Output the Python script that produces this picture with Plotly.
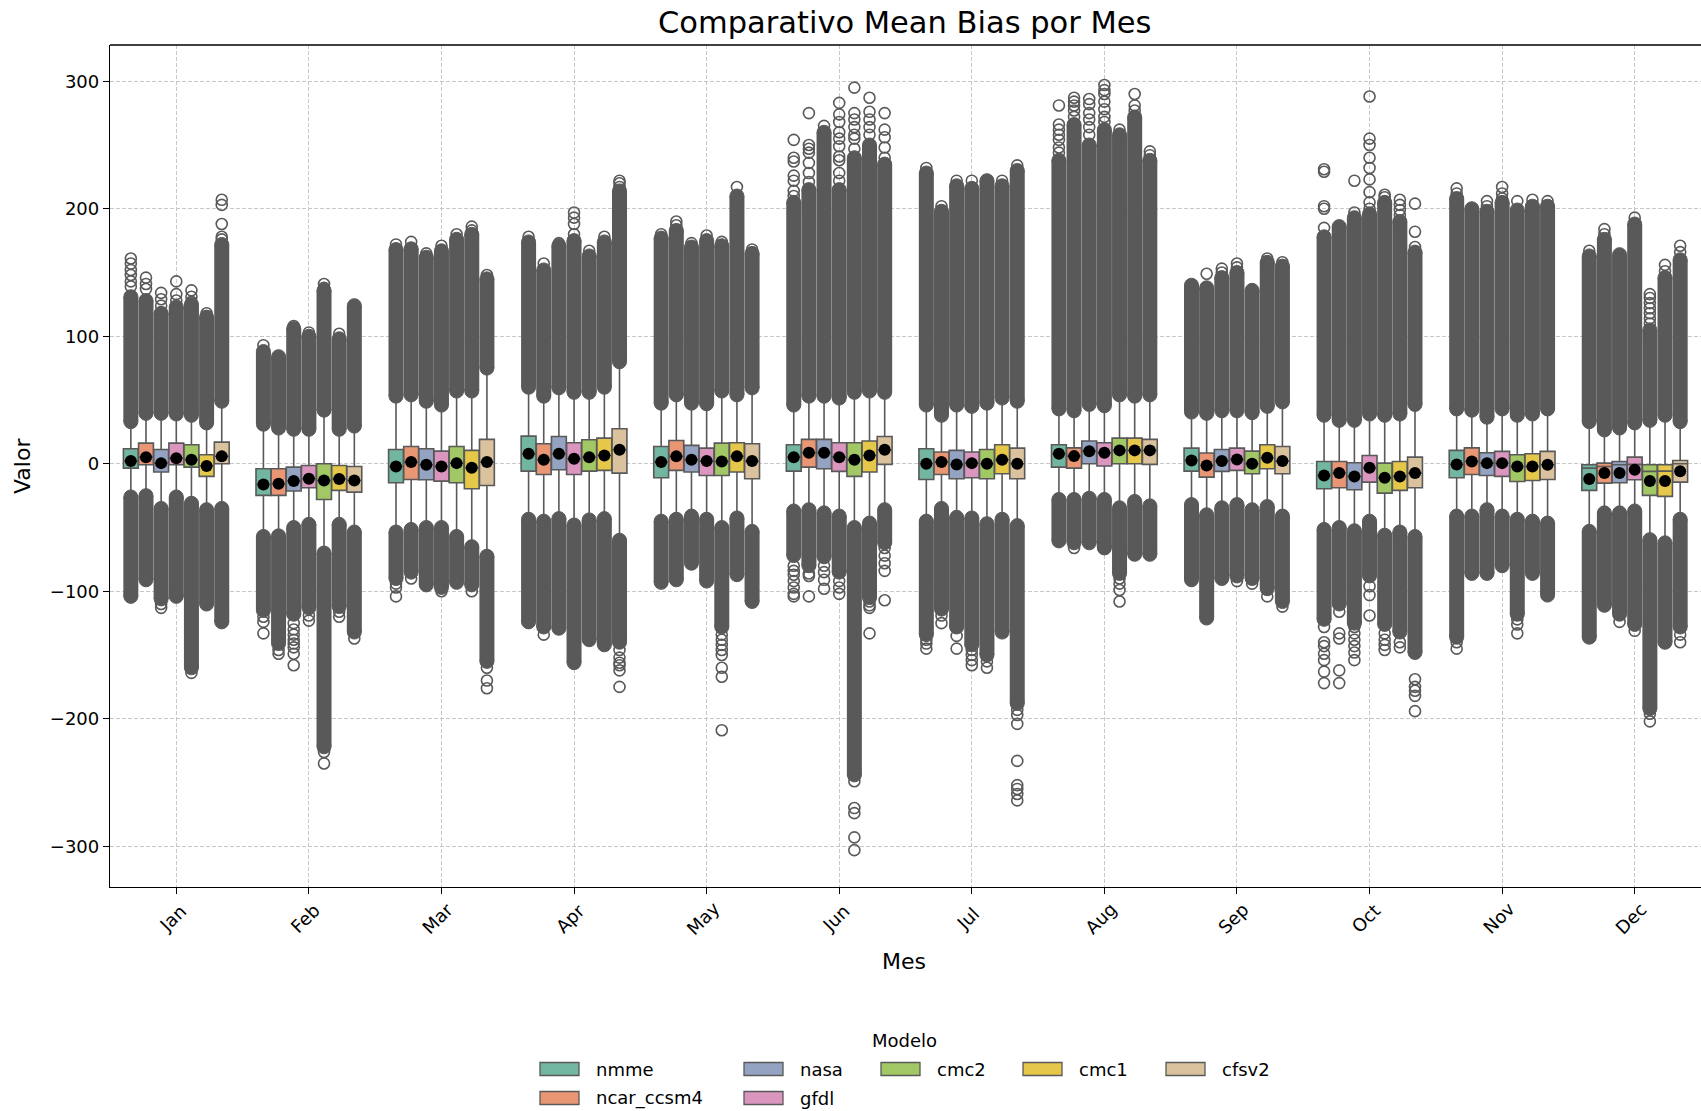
import colorsys
import plotly.graph_objects as go

# ---------------------------------------------------------------------------
# Data: monthly mean-bias distributions per model (box statistics + fliers)
# Rows = months (Jan..Dec), columns = models (same order as MODELS)
# ---------------------------------------------------------------------------
MONTHS = ["Jan", "Feb", "Mar", "Apr", "May", "Jun",
          "Jul", "Aug", "Sep", "Oct", "Nov", "Dec"]
MODELS = ["nmme", "ncar_ccsm4", "nasa", "gfdl", "cmc2", "cmc1", "cfsv2"]

Q3 = [
    [11.8, 16.2, 11.2, 16.2, 14.9, 7.1, 17.0],
    [-3.9, -3.9, -2.6, -1.3, 0.0, -1.3, -2.1],
    [11.2, 13.6, 11.8, 9.9, 13.6, 10.5, 19.1],
    [21.7, 15.7, 21.4, 16.5, 18.8, 20.1, 27.5],
    [13.6, 18.3, 14.4, 12.3, 16.2, 16.5, 15.7],
    [14.9, 19.1, 19.1, 16.5, 16.5, 17.8, 21.4],
    [11.8, 9.2, 10.5, 9.2, 11.2, 14.9, 12.3],
    [14.9, 12.5, 17.8, 16.5, 20.1, 20.1, 19.1],
    [12.3, 8.4, 11.2, 12.3, 9.9, 14.9, 13.6],
    [1.8, 1.8, 0.8, 6.5, 0.5, 1.8, 5.2],
    [10.5, 12.5, 8.6, 9.7, 7.1, 7.8, 9.7],
    [-0.8, 0.5, 1.8, 5.2, -0.8, -0.8, 2.6],
]
Q1 = [
    [-3.4, -0.8, -6.5, -0.8, -2.6, -9.9, 0.0],
    [-24.8, -24.8, -21.4, -18.8, -28.0, -20.9, -22.2],
    [-14.9, -12.3, -12.5, -13.6, -14.9, -19.6, -17.0],
    [-5.8, -8.4, -4.7, -8.4, -5.8, -5.2, -7.3],
    [-11.0, -5.2, -6.5, -9.2, -9.2, -6.5, -11.8],
    [-5.8, -2.6, -3.9, -6.0, -9.9, -6.5, -0.5],
    [-12.3, -8.4, -11.8, -11.0, -11.8, -7.8, -11.8],
    [-2.6, -3.4, 0.0, -1.8, 0.0, 0.0, -0.5],
    [-5.8, -10.5, -6.0, -5.2, -7.8, -3.9, -7.8],
    [-19.6, -18.8, -20.4, -14.4, -23.0, -20.9, -18.8],
    [-11.0, -8.4, -9.2, -9.9, -13.9, -13.1, -12.3],
    [-20.9, -15.2, -14.9, -12.5, -24.8, -25.6, -14.4],
]
MEDIAN = [
    [2.1, 5.2, 0.5, 4.4, 3.1, -1.8, 5.8],
    [-16.2, -15.7, -13.6, -11.8, -13.1, -12.0, -13.1],
    [-2.1, 1.3, -0.8, -2.1, 0.5, -3.1, 1.3],
    [7.8, 3.1, 7.8, 3.9, 5.2, 6.5, 11.0],
    [1.3, 5.8, 3.1, 2.1, 1.8, 5.8, 2.1],
    [5.2, 8.6, 8.6, 5.2, 3.1, 6.5, 11.0],
    [0.0, 1.3, -0.5, 0.5, 0.0, 3.1, 0.0],
    [7.8, 6.0, 9.9, 8.6, 10.5, 10.5, 10.5],
    [2.6, -1.3, 2.1, 3.4, 0.0, 4.7, 2.1],
    [-9.2, -7.3, -9.9, -3.1, -11.0, -9.9, -7.3],
    [-0.5, 1.8, 0.5, 0.5, -2.1, -2.1, -0.8],
    [-3.4, -2.1, -0.8, -0.5, -6.0, -5.8, 0.0],
]
MEAN = [
    [2.1, 5.2, 0.5, 4.4, 3.1, -1.8, 5.8],
    [-16.2, -15.7, -13.6, -11.8, -13.1, -12.0, -13.1],
    [-2.1, 1.3, -0.8, -2.1, 0.5, -3.1, 1.3],
    [7.8, 3.1, 7.8, 3.9, 5.2, 6.5, 11.0],
    [1.3, 5.8, 3.1, 2.1, 1.8, 5.8, 2.1],
    [5.2, 8.6, 8.6, 5.2, 3.1, 6.5, 11.0],
    [0.0, 1.3, -0.5, 0.5, 0.0, 3.1, 0.0],
    [7.8, 6.0, 9.9, 8.6, 10.5, 10.5, 10.5],
    [2.6, -1.3, 2.1, 3.4, 0.0, 4.7, 2.1],
    [-9.2, -7.3, -9.9, -3.1, -11.0, -9.9, -7.3],
    [-0.5, 1.8, 0.5, 0.5, -2.1, -2.1, -0.8],
    [-12.0, -7.3, -7.3, -4.7, -13.6, -13.6, -5.8],
]
WHISK_HI = [
    [33, 39.5, 39.5, 39, 38, 32, 49],
    [31, 28, 27, 27, 42, 27, 29.5],
    [53, 54, 49, 46, 57, 57, 75],
    [60, 53, 59.5, 56, 56, 60, 80],
    [47.5, 54, 47.5, 47, 57, 54, 59.5],
    [46, 53, 53, 51.5, 56, 57, 56],
    [46, 38, 46, 45, 47.5, 51.5, 49],
    [43, 41.5, 46.5, 45.5, 54, 53, 54],
    [40.5, 39.5, 41.5, 41.5, 40, 45, 48.5],
    [38, 34, 34, 39, 38, 39, 46.5],
    [43, 42, 36.5, 43, 38, 39, 43],
    [33, 26.5, 28, 32, 34, 38, 33],
]
WHISK_LO = [
    [-26, -25, -35, -26, -31, -36, -35],
    [-57, -56.5, -50, -47.5, -70, -47.5, -53.5],
    [-53.5, -51.5, -50, -50, -57, -65, -72.5],
    [-43.5, -45, -43, -48, -44, -43, -60],
    [-45, -43.5, -41, -43.5, -50, -42.5, -53],
    [-37, -36, -38.5, -41, -50, -46.5, -36],
    [-45, -35, -42, -42.5, -47, -43.5, -48.5],
    [-28, -28, -27, -28, -34.5, -29.5, -33],
    [-32, -40, -34.5, -32, -36, -33.5, -41],
    [-51.5, -50, -52.5, -45, -56, -53.5, -57],
    [-41, -41, -36, -41, -43.5, -45, -46.5],
    [-53, -38.5, -38.5, -37, -59.5, -62, -43.5],
]
# Extent of the continuous run of fliers beyond each whisker
FLIER_RUN_HI = [
    [131, 128, 118, 123, 125, 115, 172],
    [88, 84, 106, 100, 136, 98, 124],
    [168, 168.6, 162, 167, 176, 180, 145],
    [174, 152, 171, 175, 163, 174, 214],
    [177, 183, 170, 175, 171, 210, 165],
    [205, 215, 260, 215, 240, 250, 235],
    [228, 198, 218, 216, 222, 218, 230],
    [238, 266, 250, 262, 258, 272, 238],
    [140, 138, 146, 150, 136, 158, 155],
    [178, 186, 193, 196, 205, 190, 166],
    [208, 200, 198, 205, 199, 202, 202],
    [163, 176, 164, 188, 105, 146, 160],
]
FLIER_RUN_LO = [
    [-104, -91, -106, -104, -160, -110, -124],
    [-115, -141, -118, -113, -222, -112, -132],
    [-90, -85, -95, -97, -93, -95, -155],
    [-124, -128, -129, -156, -138, -142, -140],
    [-93, -91, -78, -92, -128, -87, -108],
    [-72, -80, -73, -85, -244, -105, -62],
    [-134, -114, -128, -142, -150, -132, -188],
    [-60.5, -62, -62, -66, -86, -71, -71],
    [-91, -121, -90, -88, -90, -98, -108],
    [-122, -110, -125, -88, -126, -132, -148],
    [-136, -86, -86, -80, -118, -86, -103],
    [-136, -111, -118, -126, -192, -140, -128],
]
# Isolated extreme values above / below the continuous runs
OUT_HI = [
    [[161, 157, 152, 148, 143, 139], [146, 141, 137], [134, 129, 124], [143, 133, 128], [136, 131, 127], [118], [207, 203, 188, 178, 176]],
    [[93], [], [108], [103], [141, 138], [102], []],
    [[172], [174], [165], [171], [180], [186, 183], [148]],
    [[178], [157], [173], [197, 193, 188, 180], [167], [178], [217, 220, 222]],
    [[180], [190, 187], [173], [179], [174], [217], [168]],
    [[210, 214, 222, 226, 237, 240, 254], [221, 228, 236, 244, 247, 250, 275], [265],
     [222, 228, 238, 241, 249, 255, 260, 268, 274, 283], [247, 255, 258, 264, 270, 275, 295],
     [258, 264, 270, 276, 287], [240, 248, 256, 262, 275]],
    [[232], [202], [222], [222], [], [222], [234]],
    [[244, 248, 254, 258, 262, 266, 281], [272, 277, 281, 284, 287], [258, 264, 270, 275, 282, 286],
     [268, 272, 278, 284, 290, 293, 297], [262], [277, 281, 290], [242, 245]],
    [[], [149], [150, 153], [154, 157], [], [161], [158]],
    [[185, 200, 202, 229, 231], [], [197, 222], [200, 205, 213, 223, 232, 240, 250, 255, 288],
     [209, 211], [195, 199, 203, 207], [170, 182, 204]],
    [[212, 216], [], [202, 206], [208, 212, 217], [206], [207], [206]],
    [[167], [180, 184], [], [193], [110, 114, 118, 122, 126, 130, 133], [151, 156], [166, 171]],
]
OUT_LO = [
    [[], [], [-110, -113], [], [-164], [], []],
    [[-120, -124, -133], [-146, -149], [-125, -130, -134, -138, -141, -144, -149, -158],
     [-119, -123], [-226, -235], [-116, -120], [-137]],
    [[-94, -97, -104], [-90], [], [-100], [], [-100], [-160, -170, -176]],
    [[], [-134], [], [], [], [], [-146, -152, -156, -158, -162, -175]],
    [[], [], [], [], [-134, -138, -142, -146, -150, -160, -167, -209], [], []],
    [[-80, -84, -87, -92, -97, -102, -104], [-86, -88, -104], [-80, -85, -91, -98], [-92, -97, -102],
     [-249, -270, -274, -293, -303], [-108, -111, -113, -133], [-66, -72, -78, -84, -107]],
    [[-138, -141, -145], [-119, -125], [-135, -145], [-146, -150, -154, -158], [-155, -160], [],
     [-193, -197, -204, -233, -252, -255, -259, -264]],
    [[], [-66], [], [], [-90, -94, -99, -108], [], []],
    [[], [], [], [-92], [-94], [-104], [-112]],
    [[-128, -140, -143, -149, -154, -163, -172], [-116, -133, -137, -162, -172],
     [-128, -133, -138, -143, -148, -154], [-96, -103, -119], [-133, -138, -142, -146],
     [-140, -144], [-169, -175, -178, -182, -194]],
    [[-140, -145], [], [], [], [-122, -126, -133], [], []],
    [[], [], [-124], [-131], [-196, -202], [], [-134, -140]],
]
Y_TICKS = [-300, -200, -100, 0, 100, 200, 300]

# ---------------------------------------------------------------------------
# Styling
# ---------------------------------------------------------------------------
SET2 = ["#66c2a5", "#fc8d62", "#8da0cb", "#e78ac3", "#a6d854", "#ffd92f", "#e5c494"]


def desaturate(hex_color, prop=0.75):
    r, g, b = (int(hex_color[i:i + 2], 16) / 255 for i in (1, 3, 5))
    h, l, s = colorsys.rgb_to_hls(r, g, b)
    r, g, b = colorsys.hls_to_rgb(h, l, s * prop)
    return "#%02x%02x%02x" % (round(r * 255), round(g * 255), round(b * 255))


COLORS = [desaturate(c) for c in SET2]
GRAY = "#595959"
FONT = "DejaVu Sans"

W, H = 1701, 1111
ML, MR, MT, MB = 110, 0, 45, 224
PW, PH = W - ML - MR, H - MT - MB

n_models = len(MODELS)
slot = 0.8 / n_models
OFFSETS = [-0.4 + slot * (j + 0.5) for j in range(n_models)]
BOX_W = slot * 0.98


def fx(px):
    return (px - ML) / PW


def fy(py):
    return (H - MB - py) / PH


fig = go.Figure()

# Boxes with whiskers
for j, model in enumerate(MODELS):
    fig.add_trace(go.Box(
        x=[i + OFFSETS[j] for i in range(len(MONTHS))],
        q1=[Q1[i][j] for i in range(len(MONTHS))],
        median=[MEDIAN[i][j] for i in range(len(MONTHS))],
        q3=[Q3[i][j] for i in range(len(MONTHS))],
        lowerfence=[WHISK_LO[i][j] for i in range(len(MONTHS))],
        upperfence=[WHISK_HI[i][j] for i in range(len(MONTHS))],
        width=BOX_W,
        whiskerwidth=0,
        boxpoints=False,
        fillcolor=COLORS[j],
        line=dict(color=GRAY, width=1.6),
        name=model,
        showlegend=False,
        hoverinfo="skip",
    ))

# Dense runs of fliers (drawn as thick rounded columns)
run_x, run_y, cap_x, cap_y = [], [], [], []
for i in range(len(MONTHS)):
    for j in range(n_models):
        x = i + OFFSETS[j]
        run_x += [x, x, None, x, x, None]
        run_y += [WHISK_HI[i][j], FLIER_RUN_HI[i][j], None,
                  WHISK_LO[i][j], FLIER_RUN_LO[i][j], None]
        cap_x += [x, x, x, x]
        cap_y += [WHISK_HI[i][j], FLIER_RUN_HI[i][j], WHISK_LO[i][j], FLIER_RUN_LO[i][j]]

fig.add_trace(go.Scatter(x=run_x, y=run_y, mode="lines",
                         line=dict(color=GRAY, width=15),
                         connectgaps=False, showlegend=False, hoverinfo="skip"))
fig.add_trace(go.Scatter(x=cap_x, y=cap_y, mode="markers",
                         marker=dict(symbol="circle", size=14, color=GRAY,
                                     line=dict(color=GRAY, width=1)),
                         showlegend=False, hoverinfo="skip"))

# Isolated fliers
fl_x, fl_y = [], []
for i in range(len(MONTHS)):
    for j in range(n_models):
        x = i + OFFSETS[j]
        for v in OUT_HI[i][j] + OUT_LO[i][j]:
            fl_x.append(x)
            fl_y.append(v)
fig.add_trace(go.Scatter(x=fl_x, y=fl_y, mode="markers",
                         marker=dict(symbol="circle-open", size=11, color=GRAY,
                                     line=dict(color=GRAY, width=1.6)),
                         showlegend=False, hoverinfo="skip"))

# Means
fig.add_trace(go.Scatter(
    x=[i + OFFSETS[j] for i in range(len(MONTHS)) for j in range(n_models)],
    y=[MEAN[i][j] for i in range(len(MONTHS)) for j in range(n_models)],
    mode="markers",
    marker=dict(symbol="circle", size=12, color="black"),
    showlegend=False, hoverinfo="skip"))

annotations = []
shapes = []

# Title and axis labels
annotations.append(dict(text="Comparativo Mean Bias por Mes", x=fx(904), y=fy(22),
                        xref="paper", yref="paper", showarrow=False,
                        xanchor="center", yanchor="middle",
                        font=dict(family=FONT, size=30.5, color="black")))
annotations.append(dict(text="Mes", x=fx(904), y=fy(961), xref="paper", yref="paper",
                        showarrow=False, xanchor="center", yanchor="middle",
                        font=dict(family=FONT, size=22, color="black")))
annotations.append(dict(text="Valor", x=fx(22), y=fy(466), xref="paper", yref="paper",
                        showarrow=False, textangle=-90, xanchor="center", yanchor="middle",
                        font=dict(family=FONT, size=22, color="black")))

# Rotated month labels
for i, m in enumerate(MONTHS):
    annotations.append(dict(text=m, x=i - 0.03, y=fy(918), xref="x", yref="paper",
                            showarrow=False, textangle=-45, xanchor="center",
                            yanchor="middle",
                            font=dict(family=FONT, size=18, color="black")))

# Top spine
shapes.append(dict(type="line", xref="paper", yref="paper", x0=0, x1=1, y0=1, y1=1,
                   line=dict(color="black", width=1.3)))

# Legend (two rows, column-major like the model order)
annotations.append(dict(text="Modelo", x=fx(904), y=fy(1040), xref="paper", yref="paper",
                        showarrow=False, xanchor="center", yanchor="middle",
                        font=dict(family=FONT, size=18, color="black")))
LEG_COLS = [540, 744, 881, 1023, 1166]
LEG_ROWS = [1069, 1098]
for j, model in enumerate(MODELS):
    col, row = j // 2, j % 2
    if j >= 4:
        col, row = j - 2, 0
    x0 = LEG_COLS[col]
    yc = LEG_ROWS[row]
    shapes.append(dict(type="rect", xref="paper", yref="paper",
                       x0=fx(x0), x1=fx(x0 + 39), y0=fy(yc + 6.5), y1=fy(yc - 6.5),
                       fillcolor=COLORS[j], line=dict(color=GRAY, width=1.3)))
    annotations.append(dict(text=model, x=fx(x0 + 54), y=fy(yc), xref="paper",
                            yref="paper", showarrow=False, xanchor="left",
                            yanchor="middle",
                            font=dict(family=FONT, size=18, color="black")))

fig.update_layout(
    width=W, height=H,
    margin=dict(l=ML, r=MR, t=MT, b=MB, pad=0),
    paper_bgcolor="white", plot_bgcolor="white",
    boxmode="overlay",
    showlegend=False,
    annotations=annotations,
    shapes=shapes,
    xaxis=dict(range=[-0.5, 11.5], tickvals=list(range(len(MONTHS))),
               ticktext=["" for _ in MONTHS], showgrid=True, gridcolor="#c8c8c8",
               griddash="4px,2px", gridwidth=1, zeroline=False,
               showline=True, linecolor="black", linewidth=1.3,
               ticks="outside", ticklen=6, tickwidth=1.3, tickcolor="black"),
    yaxis=dict(range=[-331.9, 328.4], tickvals=Y_TICKS,
               ticktext=[str(v).replace("-", "\u2212") for v in Y_TICKS],
               showgrid=True, gridcolor="#c8c8c8", griddash="4px,2px", gridwidth=1,
               zeroline=False, showline=True, linecolor="black", linewidth=1.3,
               ticks="outside", ticklen=6, tickwidth=1.3, tickcolor="black",
               tickfont=dict(family=FONT, size=18, color="black")),
)

fig.write_html("out.html")
